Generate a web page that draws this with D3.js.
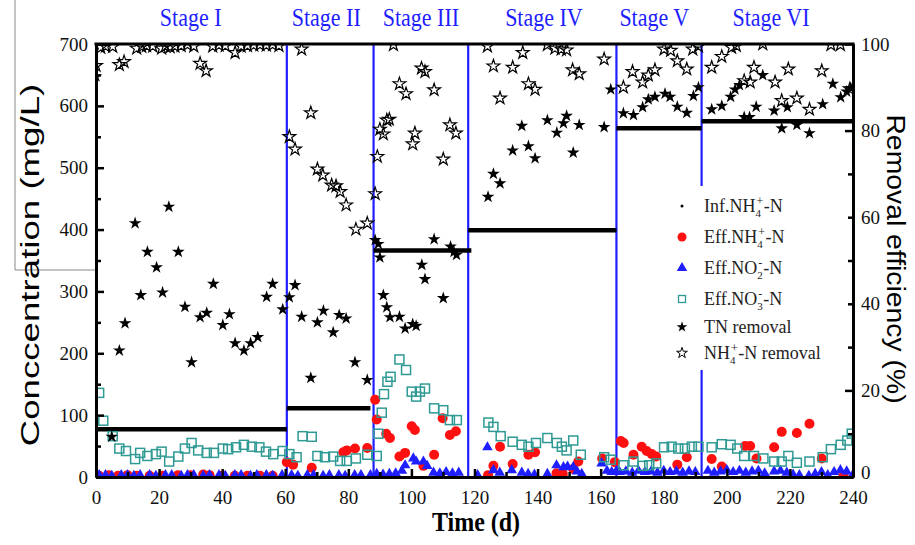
<!DOCTYPE html>
<html>
<head>
<meta charset="utf-8">
<script src="https://cdn.jsdelivr.net/npm/d3@7"></script>
<style>
  body { margin: 0; background: #fff; }
  svg { display: block; }
  .tick text { font-family: "Liberation Serif", serif; font-size: 19px; fill: #111; }
</style>
</head>
<body>
<div id="chart"></div>
<script>
// ---- data ----
var stageNames = ["Stage I", "Stage II", "Stage III", "Stage IV", "Stage V", "Stage VI"];
var stageBounds = [60.5, 88, 118, 165, 192];
var stageLabelDay = [30, 73, 103, 142, 177, 214];

var infStart = [0, 60.5, 88, 118, 165, 192];
var infEnd = [60.5, 87, 119, 165, 192, 240];
var infValue = [77, 111, 366, 399, 564, 575];

// Eff.NH4+-N (mg/L)
var effNH4 = [[1,2],[4,3],[7,2],[10,3],[13,2],[17,2],[21,2],[26,3],[30,3],[34,4],[36,3],[40,2],[44,2],[48,2],[52,2],[56,2],
  [60.5,24],[62.5,20],[68.4,15],[78.4,40],[79.5,43],[82.1,46],[86,47],
  [88.5,125],[89,93],[92,70],[93.2,63],[96.2,33],[98,39],[100.1,82],[101.1,76],[103.8,18],[107.2,36],[109.9,95],[112.2,68],[114.1,74],
  [124.3,3],[126,18],[128.1,49],[132.1,21],[137.1,36],[139.2,40],[146,6],[148,5],[151.3,13],[152.9,25],[160.5,30],
  [164.5,24],[166.4,58],[167.3,55],[170.4,36],[173,49],[174.6,42],[176.2,37],[177.6,33],[184.3,20],[187.3,32],
  [195.2,29],[198.4,17],[205.8,50],[207.4,50],[209.4,30],[215,48],[217.4,73],[222.2,71],[226.2,86],[230.1,30],[237,3]];

// Eff.NO2--N (mg/L)
var effNO2 = [[1,3],[3,3],[5,2],[8,3],[10,3],[12,2],[14,3],[17,3],[19,2],[22,3],[24,3],[27,2],[29,3],[31,3],[34,2],[36,3],[39,3],[41,2],[44,3],[46,3],[49,2],[51,3],[54,3],[56,2],[59,3],
  [62,3],[64,2],[67,3],[69,3],[72,2],[74,3],[77,3],[79,2],[82,3],[84,3],[87,3],
  [89,5],[91,4],[93,5],[95,6],[97,10],[98,19],[100.6,30],[101.5,25],[103.8,25],[105,18],[107,7],[109,6],[111,8],[113,6],[115,7],
  [121,3],[124.1,48],[126,11],[128,7],[131.8,11],[135,7],[137,5],[139,4],[143.1,5],[146,19],[148.2,16],[149.5,17],[151.3,16],[152.5,9],[154,5],[160.3,22],[162,10],[163.5,8],
  [165,10],[166,8],[168,9],[170,7],[172,10],[174,8],[176,9],[178,7],[180,10],[182,8],[184,9],[186,7],[188,9],[190,8],
  [194,10],[196,7],[198,9],[200,11],[202,8],[204,10],[206,7],[208,9],[210,10],[212,6],[215,9],[217,10],[219,7],[221,4],[223,3],[226,2],[228,5],[230,8],[232,3],[234,8],[236,11],[238,9],[240,4]];

// Eff.NO3--N (mg/L)
var effNO3 = [[1,136],[2.3,91],[5.3,66],[7.4,46],[9.5,42],[12.4,29],[14,39],[16.3,34],[19,37],[20.8,41],[23.2,25],[26.1,33],[28.2,46],[30.3,55],[32.4,43],[35.1,39],[37.4,39],[40.2,46],[41.9,45],[44.4,48],[46.9,52],[49.4,49],[51.8,48],[53.9,41],[56.2,37],[59.2,42],
  [61.3,37],[63.6,32],[65.5,66],[68.4,65],[70.2,34],[72.6,32],[75.2,33],[77.4,26],[79.5,26],[82.4,30],[86,36],
  [89,34],[89.5,70],[90.6,104],[91.3,134],[92.4,154],[93.4,162],[96.2,190],[98.3,173],[100.1,138],[101.5,130],[102.7,138],[104.3,143],[107.2,111],[110.1,108],[112.2,92],[114.4,92],
  [124.4,88],[126,81],[128.3,66],[132.1,57],[135,52],[137.1,49],[139.5,55],[143.1,63],[146.1,55],[147.7,49],[149.2,43],[151.3,59],[153.7,36],[161.1,32],[163.2,28],
  [167.2,19],[170.4,25],[173.3,18],[175.4,19],[177.6,22],[180.1,48],[182.5,49],[184.6,46],[186.7,46],[188.9,49],[191,49],
  [195.2,48],[198.4,53],[201.2,52],[203.3,46],[205.5,34],[208.6,34],[211.6,30],[215,25],[217.4,25],[219.5,34],[222.2,23],[226.2,25],[230.4,32],[233,45],[236.1,52],[238.2,59],[239.6,70]];

// TN removal (%)
var tnRemoval = [[0,92.5],[5,9.3],[7.4,29.2],[9.2,35.5],[12.4,58.6],[14.2,42.0],[16.3,52.0],[19.2,48.4],[21.1,42.6],[23.1,62.4],[26.1,52.0],[28.2,39.3],[30.3,26.5],[33,36.9],[35.1,37.9],[37.2,44.6],[40.2,35.1],[42.3,37.6],[44.1,30.9],[46.9,29.2],[49,30.9],[51.3,32.3],[54.1,41.6],[56,44.6],[59.2,38.7],
  [61.3,41.5],[63.1,44.3],[65.2,37.0],[68.1,22.9],[70.2,35.7],[72.1,38.4],[75.2,33.4],[77.1,37.4],[79.3,36.6],[82.1,26.5],[86,22.4],
  [88.5,54.7],[89.5,53.8],[90,50.7],[91.1,42.0],[92.2,39.2],[93.2,36.9],[96.2,37.0],[98,34.3],[100.4,35.3],[101.5,34.9],[103.3,49.0],[104.3,45.7],[107.2,54.9],[110.1,41.3],[112.4,53.2],[113.5,52.0],[114.3,51.3],
  [124.3,64.7],[126,70.0],[128.1,67.8],[132.1,75.4],[135,81.1],[137.1,76.4],[139.2,73.6],[143.1,82.4],[146.1,79.5],[148.2,81.7],[149.2,83.4],[151.3,74.9],[153.2,81.3],[161.1,80.8],[163.2,89.5],
  [167.2,84.0],[170.4,83.6],[173.3,85.4],[175.1,87.2],[177.2,87.8],[180.4,88.5],[182,87.8],[184.3,85.5],[187.3,84.1],[189.4,88.0],[191,90.0],
  [195.2,84.9],[198.4,85.7],[201.2,87.8],[202.6,89.5],[204,90.5],[205.5,83.1],[207.2,83.1],[209.3,85.5],[211.4,92.8],[215,84.6],[217.4,80.5],[219.2,85.4],[222.2,81.3],[226.2,79.4],[230.4,86.1],[233.6,90.8],[236.1,87.7],[238,89.0],[239.3,89.8]];

// NH4+-N removal (%)
var nh4Removal = [[0,95],[1.5,99.2],[3,99.5],[5.3,99.4],[7.4,95.2],[8.9,95.9],[12.9,99],[14.5,99.4],[16,99.6],[18,99.5],[20.8,99.0],[22,99.5],[23.5,99.3],[25,99.5],[27,99.6],[29,99.8],[31,99.5],[33,95.5],[34.9,93.8],[37,99.5],[39,99.7],[41,99.6],[44.1,98.0],[46,99.5],[48,99.6],[50,99.7],[52,99.8],[54,99.7],[56,99.8],[58,99.6],
  [61.3,78.6],[63.1,75.7],[65.2,98.8],[68.1,84.1],[70.2,71.1],[71.9,69.7],[74.7,67.4],[76.1,67.2],[77.4,65.9],[79.3,62.8],[82.4,57.2],[86,58.6],
  [88.5,65.4],[89.2,74.0],[90,80.3],[91.1,79.2],[92.2,82.4],[93,82.6],[94.3,99.8],[96.2,90.8],[98.3,88.5],[100.4,76.9],[101.1,79.4],[103.2,94.4],[104.3,93.6],[107.2,89.4],[110.1,73.4],[112.2,81.3],[114.1,79.4],
  [124.1,99.5],[126,94.9],[128.1,87.5],[132.1,94.6],[135.3,98.0],[137.1,90.8],[139.2,89.5],[143.1,99.8],[145.5,99.0],[147.5,98.8],[149.2,98.6],[151.1,94.0],[153.2,93.1],[161.1,96.5],
  [167.2,90.0],[170.1,93.6],[173.3,91.2],[175.1,92.8],[177.2,94.0],[180.1,98.8],[182.2,98.5],[184.3,96.1],[187.3,94.2],[189.2,98.8],[191,99.5],
  [195.2,94.6],[198.4,97.1],[201.5,99.2],[203,99.6],[205.5,91.5],[207.4,91.2],[208.6,94.6],[211.4,100],[215.3,91.2],[217.4,86.9],[219.5,94.2],[222.2,87.5],[226.2,84.9],[230.1,93.8],[233,99.8],[236,99.8],[239,89.6]];

var xTicks = d3.range(0, 241, 20);
var yLeftTicks = d3.range(0, 701, 100);
var yRightTicks = d3.range(0, 101, 20);

// ---- layout ----
var W = 915, H = 545;
var plot = { left: 96, right: 853, top: 44, bottom: 477 };
var serif = '"Liberation Serif", "Times New Roman", serif';
var sans = '"Liberation Sans", Arial, sans-serif';
var blue = "#1e1eff", red = "#ff1010", teal = "#2f9a94";

var svg = d3.select("#chart").append("svg")
    .attr("width", W).attr("height", H);

var x = d3.scaleLinear().domain([0, 240]).range([plot.left, plot.right]);
var yL = d3.scaleLinear().domain([0, 700]).range([plot.bottom, plot.top]);
var yR = d3.scaleLinear().domain([0, 100]).range([plot.bottom, plot.top]);

// thin crop-edge lines left of the y axis label in the source image
svg.append("path")
    .attr("d", "M15,0V270H95")
    .attr("fill", "none").attr("stroke", "#888").attr("stroke-width", 1);

svg.append("clipPath").attr("id", "clip").append("rect")
    .attr("x", plot.left).attr("y", plot.top)
    .attr("width", plot.right - plot.left).attr("height", plot.bottom - plot.top);

var marks = svg.append("g").attr("clip-path", "url(#clip)");

// stage separators
marks.selectAll(".stage-line").data(stageBounds).enter().append("line")
    .attr("class", "stage-line")
    .attr("x1", function (d) { return x(d); }).attr("x2", function (d) { return x(d); })
    .attr("y1", plot.top).attr("y2", plot.bottom)
    .attr("stroke", blue).attr("stroke-width", 2.2);

// influent NH4+-N
marks.selectAll(".inf").data(infValue).enter().append("line")
    .attr("class", "inf")
    .attr("x1", function (d, i) { return x(infStart[i]); })
    .attr("x2", function (d, i) { return x(infEnd[i]); })
    .attr("y1", function (d) { return yL(d); })
    .attr("y2", function (d) { return yL(d); })
    .attr("stroke", "#000").attr("stroke-width", 4.5);

var star = d3.symbol().type(d3.symbolStar).size(50);
var tri = d3.symbol().type(d3.symbolTriangle).size(48);

marks.selectAll(".nh4").data(effNH4).enter().append("circle")
    .attr("cx", function (d) { return x(d[0]); })
    .attr("cy", function (d) { return yL(d[1]); })
    .attr("r", 5).attr("fill", red);

marks.selectAll(".no2").data(effNO2).enter().append("path")
    .attr("d", tri)
    .attr("transform", function (d) { return "translate(" + x(d[0]) + "," + yL(d[1]) + ")"; })
    .attr("fill", blue);

marks.selectAll(".no3").data(effNO3).enter().append("rect")
    .attr("x", function (d) { return x(d[0]) - 4.5; })
    .attr("y", function (d) { return yL(d[1]) - 4.5; })
    .attr("width", 9).attr("height", 9)
    .attr("fill", "none").attr("stroke", teal).attr("stroke-width", 1.5);

marks.selectAll(".tn").data(tnRemoval).enter().append("path")
    .attr("d", star)
    .attr("transform", function (d) { return "translate(" + x(d[0]) + "," + yR(d[1]) + ")"; })
    .attr("fill", "#000");

marks.selectAll(".nh4r").data(nh4Removal).enter().append("path")
    .attr("d", star)
    .attr("transform", function (d) { return "translate(" + x(d[0]) + "," + yR(d[1]) + ")"; })
    .attr("fill", "none").attr("stroke", "#000").attr("stroke-width", 1.2);

// ---- axes (ticks pointing inward) ----
function styleAxis(g) {
    g.select(".domain").attr("stroke", "#000").attr("stroke-width", 3);
    g.selectAll(".tick line").attr("stroke", "#000").attr("stroke-width", 2.5);
}

svg.append("g").attr("transform", "translate(0," + plot.bottom + ")")
    .call(d3.axisBottom(x).tickValues(d3.range(10, 240, 20)).tickSize(-5).tickSizeOuter(0).tickFormat(""))
    .call(styleAxis);
svg.append("g").attr("transform", "translate(0," + plot.bottom + ")")
    .call(d3.axisBottom(x).tickValues(xTicks).tickSize(-8).tickSizeOuter(0).tickPadding(14))
    .call(styleAxis);

svg.append("g").attr("transform", "translate(" + plot.left + ",0)")
    .call(d3.axisLeft(yL).tickValues(d3.range(50, 700, 100)).tickSize(-5).tickSizeOuter(0).tickFormat(""))
    .call(styleAxis);
svg.append("g").attr("transform", "translate(" + plot.left + ",0)")
    .call(d3.axisLeft(yL).tickValues(yLeftTicks).tickSize(-8).tickSizeOuter(0).tickPadding(8))
    .call(styleAxis);

svg.append("g").attr("transform", "translate(" + plot.right + ",0)")
    .call(d3.axisRight(yR).tickValues(d3.range(10, 100, 20)).tickSize(-5).tickSizeOuter(0).tickFormat(""))
    .call(styleAxis);
svg.append("g").attr("transform", "translate(" + plot.right + ",0)")
    .call(d3.axisRight(yR).tickValues(yRightTicks).tickSize(-8).tickSizeOuter(0).tickPadding(8))
    .call(styleAxis)
    .selectAll(".tick text").attr("dy", function (d) { return d === 0 ? "0.1em" : "0.32em"; });

svg.append("line")
    .attr("x1", plot.left - 1.5).attr("x2", plot.right + 1.5)
    .attr("y1", plot.top).attr("y2", plot.top)
    .attr("stroke", "#000").attr("stroke-width", 3);

// ---- titles ----
svg.selectAll(".stage-label").data(stageNames).enter().append("text")
    .attr("transform", function (d, i) { return "translate(" + x(stageLabelDay[i]) + ",26) scale(1,1.1)"; })
    .attr("text-anchor", "middle")
    .style("font-family", serif).style("font-size", "22px")
    .attr("fill", blue)
    .text(function (d) { return d; });

svg.append("text")
    .attr("transform", "translate(476,531) scale(1,1.1)")
    .attr("text-anchor", "middle")
    .style("font-family", serif).style("font-size", "24px").style("font-weight", "bold")
    .text("Time (d)");

svg.append("text")
    .attr("transform", "translate(39,265) rotate(-90) scale(1.41,1)")
    .attr("text-anchor", "middle")
    .style("font-family", sans).style("font-size", "26px")
    .text("Conccentration (mg/L)");

svg.append("text")
    .attr("transform", "translate(887,259) rotate(90) scale(1.09,1)")
    .attr("text-anchor", "middle")
    .style("font-family", sans).style("font-size", "26px")
    .text("Removal efficiency (%)");

// ---- legend ----
var legend = svg.append("g");
legend.append("rect")
    .attr("x", 668).attr("y", 186).attr("width", 180).attr("height", 184)
    .attr("fill", "#fff");

var legendRows = [
    { y: 206, parts: [["Inf.NH"], ["4", "+"], ["-N"]] },
    { y: 237, parts: [["Eff.NH"], ["4", "+"], ["-N"]] },
    { y: 268, parts: [["Eff.NO"], ["2", "-"], ["-N"]] },
    { y: 299, parts: [["Eff.NO"], ["3", "-"], ["-N"]] },
    { y: 327, parts: [["TN removal"]] },
    { y: 353, parts: [["NH"], ["4", "+"], ["-N removal"]] }
];

function chemText(g, x0, y0, parts) {
    var cx = x0;
    parts.forEach(function (p) {
        if (p.length === 1) {
            var t = g.append("text").attr("x", cx).attr("y", y0)
                .style("font-family", serif).style("font-size", "18px").attr("fill", "#222")
                .text(p[0]);
            cx += t.node().getComputedTextLength();
        } else {
            var a = g.append("text").attr("x", cx).attr("y", y0 + 5)
                .style("font-family", serif).style("font-size", "11px").attr("fill", "#222").text(p[0]);
            var b = g.append("text").attr("x", cx + 1).attr("y", y0 - 7)
                .style("font-family", serif).style("font-size", "12px").attr("fill", "#222").text(p[1]);
            cx += Math.max(a.node().getComputedTextLength(), b.node().getComputedTextLength() + 1) + 0.5;
        }
    });
}

legendRows.forEach(function (r) { chemText(legend, 704, r.y + 6, r.parts); });

var lx = 682;
legend.append("circle").attr("cx", lx).attr("cy", legendRows[0].y).attr("r", 1.5).attr("fill", "#000");
legend.append("circle").attr("cx", lx).attr("cy", legendRows[1].y).attr("r", 4.5).attr("fill", red);
legend.append("path").attr("d", tri).attr("transform", "translate(" + lx + "," + legendRows[2].y + ")").attr("fill", blue);
legend.append("rect").attr("x", lx - 3.5).attr("y", legendRows[3].y - 3.5).attr("width", 7).attr("height", 7)
    .attr("fill", "none").attr("stroke", teal).attr("stroke-width", 1.3);
legend.append("path").attr("d", d3.symbol().type(d3.symbolStar).size(36))
    .attr("transform", "translate(" + lx + "," + legendRows[4].y + ")").attr("fill", "#000");
legend.append("path").attr("d", d3.symbol().type(d3.symbolStar).size(36))
    .attr("transform", "translate(" + lx + "," + legendRows[5].y + ")")
    .attr("fill", "none").attr("stroke", "#000").attr("stroke-width", 1);
</script>
</body>
</html>
